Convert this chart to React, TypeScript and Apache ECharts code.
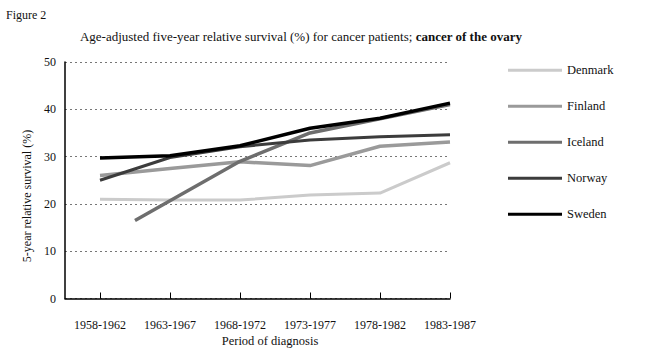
import React, { useEffect, useRef } from "react";
import * as echarts from "echarts";

const periods = ["1958-1962", "1963-1967", "1968-1972", "1973-1977", "1978-1982", "1983-1987"];
const periodIndex = [0, 1, 2, 3, 4, 5];
const countries = ["Denmark", "Finland", "Iceland", "Norway", "Sweden"];
const denmark = [21.0, 20.8, 20.8, 21.9, 22.3, 28.7];
const finland = [26.0, 27.5, 28.9, 28.1, 32.2, 33.1];
const icelandPositions = [0.5, 2, 3, 4, 5];
const iceland = [16.5, 29.0, 35.0, 38.0, 41.0];
const norway = [25.0, 29.8, 32.1, 33.5, 34.2, 34.6];
const sweden = [29.7, 30.2, 32.3, 36.0, 38.1, 41.3];
const yTicks = [0, 10, 20, 30, 40, 50];

const colors = ["#cbcbcb", "#9a9a9a", "#6e6e6e", "#3c3c3c", "#000000"];
const widths = [3, 3.5, 3.5, 3, 3.5];
const FONT = "Liberation Serif";

export default function App() {
  const ref = useRef<HTMLDivElement>(null);
  useEffect(() => {
    document.body.style.margin = "0";
    if (!ref.current) return;
    const chart = echarts.init(ref.current, null, { renderer: "svg" });
    const seriesData = [
      periodIndex.map((i) => [i, denmark[i]]),
      periodIndex.map((i) => [i, finland[i]]),
      icelandPositions.map((p, i) => [p, iceland[i]]),
      periodIndex.map((i) => [i, norway[i]]),
      periodIndex.map((i) => [i, sweden[i]]),
    ];
    chart.setOption({
      animation: false,
      backgroundColor: "#ffffff",
      textStyle: { fontFamily: FONT, color: "#111" },
      grid: { left: 65, right: 200, top: 62, bottom: 57.5, containLabel: false },
      legend: {
        orient: "vertical",
        left: 503,
        top: 58,
        icon: "rect",
        itemWidth: 54,
        itemHeight: 3,
        itemGap: 21.5,
        data: countries,
        textStyle: { fontFamily: FONT, fontSize: 12.5, color: "#111", lineHeight: 14.5 },
      },
      graphic: [
        {
          type: "text",
          left: 6,
          top: 9,
          style: { text: "Figure 2", fontFamily: FONT, fontSize: 12, fill: "#111" },
        },
        {
          type: "text",
          x: 301,
          y: 36,
          style: {
            text: "{n|Age-adjusted five-year relative survival (%) for cancer patients; }{b|cancer of the ovary}",
            align: "center",
            verticalAlign: "middle",
            rich: {
              n: { fontFamily: FONT, fontSize: 13, fill: "#111" },
              b: { fontFamily: FONT, fontSize: 13, fontWeight: "bold", fill: "#111" },
            },
          },
        },
        {
          type: "text",
          x: 27,
          y: 196,
          rotation: Math.PI / 2,
          style: {
            text: "5-year relative survival (%)",
            fontFamily: FONT,
            fontSize: 12,
            fill: "#111",
            align: "center",
            verticalAlign: "middle",
          },
        },
        {
          type: "text",
          x: 270,
          y: 341,
          style: {
            text: "Period of diagnosis",
            fontFamily: FONT,
            fontSize: 12.5,
            fill: "#111",
            align: "center",
            verticalAlign: "middle",
          },
        },
      ],
      xAxis: {
        type: "value",
        min: -0.5,
        max: 5,
        axisLine: { show: true, onZero: false, lineStyle: { color: "#000", width: 1.5 } },
        axisTick: {
          show: true,
          inside: true,
          length: 6,
          customValues: periodIndex,
          lineStyle: { color: "#000", width: 1 },
        },
        axisLabel: {
          customValues: periodIndex,
          formatter: (v: number) => periods[Math.round(v)] ?? "",
          margin: 20,
          fontFamily: FONT,
          fontSize: 12,
          color: "#111",
        },
        splitLine: { show: false },
      },
      yAxis: {
        type: "value",
        min: 0,
        max: 50,
        interval: 10,
        axisLine: { show: true, onZero: false, lineStyle: { color: "#000", width: 1.5 } },
        axisTick: { show: false },
        axisLabel: {
          margin: 9,
          fontFamily: FONT,
          fontSize: 12,
          color: "#111",
          formatter: (v: number) => (yTicks.includes(v) ? String(v) : ""),
        },
        splitLine: { show: true, lineStyle: { type: [2, 3], color: "#777", width: 1 } },
      },
      series: countries.map((name, k) => ({
        name,
        type: "line",
        data: seriesData[k],
        symbol: "none",
        color: colors[k],
        lineStyle: { color: colors[k], width: widths[k] },
        z: 2 + k,
      })),
    });
    return () => chart.dispose();
  }, []);
  return <div ref={ref} style={{ width: 650, height: 356 }} />;
}
